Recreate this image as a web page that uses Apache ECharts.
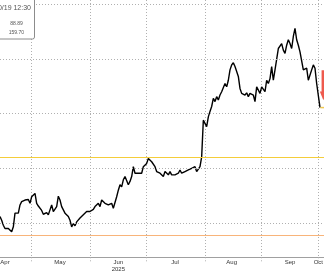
<!DOCTYPE html>
<html>
<head>
<meta charset="utf-8">
<script src="https://cdn.jsdelivr.net/npm/echarts@6/dist/echarts.min.js"></script>
<style>html,body{margin:0;padding:0;background:#fff;}#c{width:324px;height:272px;}</style>
</head>
<body>
<div id="c"></div>
<script>
// ---- data ----
const startTime = '2025-04-14T01:00:00Z';
const stepHours = 21.43;
const prices = [
61.2,60.5,59.6,59.0,59.3,59.0,58.7,58.4,59.3,61.8,62.1,61.8,63.3,63.9,63.7,64.2,63.9,64.3,63.6,64.8,
65.1,65.4,63.6,63.1,63.0,62.3,61.6,61.5,61.9,61.5,62.4,63.3,62.1,62.4,63.0,64.9,64.2,63.0,63.3,61.8,
61.5,61.2,60.5,59.3,59.9,59.5,60.2,60.5,60.9,61.2,61.5,61.5,62.1,62.4,62.1,62.4,62.5,63.0,62.7,63.6,
63.0,64.2,63.9,63.6,63.6,63.3,63.3,63.6,62.7,63.0,64.8,66.0,67.0,66.6,67.9,68.5,68.2,67.0,67.6,68.5,
70.3,69.1,68.8,69.1,68.8,69.1,70.3,70.6,70.9,71.8,71.8,71.2,70.9,70.3,69.4,69.7,69.1,68.8,68.5,69.4,
69.1,68.8,69.4,68.8,68.5,68.8,68.6,69.1,69.7,69.1,69.4,69.4,69.6,69.7,69.8,70.0,70.0,70.3,69.4,69.1,
70.3,72.1,78.8,79.1,77.6,79.4,80.4,81.3,82.8,82.2,83.1,82.5,83.4,84.0,84.3,85.5,84.9,86.1,88.0,88.9,
89.3,88.6,88.3,86.8,84.6,83.7,84.0,83.4,83.8,83.1,83.7,84.0,83.4,82.2,84.9,85.2,83.7,84.9,85.2,84.0,
86.1,85.5,86.4,88.6,86.1,88.0,88.3,91.9,92.2,92.8,91.6,91.0,92.5,93.5,92.8,91.9,94.1,95.6,93.5,92.5,
91.3,91.3,88.0,87.7,88.3,86.1,86.4,88.0,88.9,88.3,85.5,85.8,81.1
];
const extraSlots = 4;
const gridValues = [60, 70, 80, 90, 100];
const yellowLevel = 72.07;
const orangeLevel = 57.85;
const monthLabelDates = ['2025-04-16','2025-05-16','2025-06-16','2025-07-16','2025-08-16','2025-09-16','2025-10-01'];
const monthLabels = ['Apr','May','Jun\n2025','Jul','Aug','Sep','Oct'];
const tipLines = ['10/19 12:30', '88.89', '159.70'];
const arrowLevel = 85.2;

// ---- build categories ----
const t0 = Date.parse(startTime);
const times = [];
for (let i = 0; i < prices.length + extraSlots; i++) times.push(t0 + i * stepHours * 3600e3);
function fmt(t){const d=new Date(t);const p=n=>String(n).padStart(2,'0');
  return d.getUTCFullYear()+'-'+p(d.getUTCMonth()+1)+'-'+p(d.getUTCDate())+' '+p(d.getUTCHours())+':'+p(d.getUTCMinutes());}
const categories = times.map(fmt);
const monthStart = new Set();
for (let i = 1; i < times.length; i++) {
  if (new Date(times[i]).getUTCMonth() !== new Date(times[i-1]).getUTCMonth()) monthStart.add(i);
}
const labelAt = {};
monthLabelDates.forEach((ds, k) => {
  const t = Date.parse(ds + 'T00:00:00Z');
  const idx = times.findIndex(x => x >= t);
  if (idx >= 0) labelAt[idx] = monthLabels[k];
});
const lastIdx = prices.length - 1;
const markCat = categories[lastIdx + 2];

function levelSeries(values, style, z) {
  return {type:'line', data:[], z:z,
    markLine:{symbol:['none','none'], label:{show:false}, lineStyle:style,
      data: values.map(v=>({yAxis:v}))}};
}

const chart = echarts.init(document.getElementById('c'), null, {renderer:'canvas'});
const gridStyle = {color:'#b0b0b0', width:1, type:[1,2]};
chart.setOption({
  animation:false,
  backgroundColor:'#fff',
  grid:{left:0, top:0, width:(categories.length-1)*5/3, bottom:14.7, containLabel:false, outerBoundsMode:'none'},
  xAxis:{
    type:'category', data:categories, boundaryGap:false,
    axisLine:{show:true, lineStyle:{color:'#a0a0a0', width:1}},
    axisTick:{show:true, length:4, interval:(i)=>monthStart.has(i), lineStyle:gridStyle},
    splitLine:{show:true, interval:(i)=>monthStart.has(i), lineStyle:gridStyle},
    axisLabel:{show:true, interval:(i)=>labelAt[i]!==undefined, formatter:(v,i)=>labelAt[i]||'',
      fontSize:6, color:'#333', fontFamily:'Liberation Sans', margin:2, lineHeight:7}
  },
  yAxis:{type:'value', min:53.73, max:100.77, show:false, splitLine:{show:false}},
  series:[
    levelSeries(gridValues, gridStyle, 1),
    levelSeries([yellowLevel], {color:'#f4cd3a', width:1, type:'solid'}, 2),
    levelSeries([orangeLevel], {color:'#f8b47a', width:1, type:'solid'}, 2),
    {type:'line', data:prices, showSymbol:false, z:3,
     lineStyle:{color:'#000', width:1.4}, emphasis:{disabled:true},
     markPoint:{silent:true, animation:false, label:{show:false},
       data:[
         {coord:[markCat, arrowLevel], symbol:'path://M2,0 L6,0 L6,20 L8,20 L4,28 L0,20 L2,20 Z',
          symbolSize:[7,30], itemStyle:{color:'#ee5a4e'}},
         {coord:[markCat, prices[lastIdx]], symbol:'rect', symbolSize:[6,1.5], itemStyle:{color:'#f0c850'}}
       ]}}
  ],
  graphic:[
    {type:'rect', z:100, shape:{x:-4, y:-4, width:38.5, height:43, r:2},
     style:{fill:'#fff', stroke:'#8c8c8c', lineWidth:1}},
    {type:'text', z:101, x:12.5, y:8.3, style:{text:tipLines[0], fontSize:7, fill:'#555', align:'center', verticalAlign:'middle', fontFamily:'Liberation Sans'}},
    {type:'text', z:101, x:16.6, y:24, style:{text:tipLines[1], fontSize:5, fill:'#555', align:'center', verticalAlign:'middle', fontFamily:'Liberation Sans'}},
    {type:'text', z:101, x:16.4, y:32.7, style:{text:tipLines[2], fontSize:5, fill:'#555', align:'center', verticalAlign:'middle', fontFamily:'Liberation Sans'}}
  ]
});
</script>
</body>
</html>
